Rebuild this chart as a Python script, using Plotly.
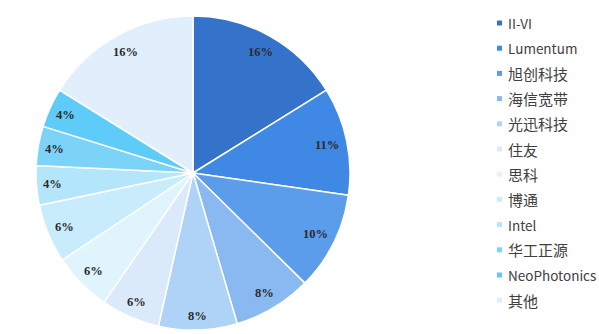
import math
import plotly.graph_objects as go

labels = ["II-VI", "Lumentum", "旭创科技", "海信宽带", "光迅科技", "住友", "思科", "博通",
          "Intel", "华工正源", "NeoPhotonics", "其他"]
values = [16, 11, 10, 8, 8, 6, 6, 6, 4, 4, 4, 16]
colors = ["#3473C9", "#3F88E3", "#5B9DEB", "#89B9F0", "#AFD3F6", "#DBEAFB",
          "#E0F4FE", "#C9ECFC", "#B3E6FA", "#7BD3F8", "#5ECBF8", "#E1EFFD"]

W, H = 599, 334
cx, cy, r = 193, 173, 157

fig = go.Figure(go.Pie(
    labels=labels, values=values, sort=False, direction="clockwise", rotation=0,
    marker=dict(colors=colors, line=dict(color="white", width=1.5)),
    textinfo="none",
    domain=dict(x=[(cx - r) / W, (cx + r) / W], y=[(H - cy - r) / H, (H - cy + r) / H]),
    showlegend=False, hoverinfo="label+value",
))

shapes, annotations = [], []

# slice labels near the outer edge (mid-angle of each slice)
total = sum(values)
cum = 0
for v in values:
    mid = (cum + v / 2) / total * 2 * math.pi
    cum += v
    s, c = math.sin(mid), math.cos(mid)
    w = 22 if v >= 10 else 15
    d = r - (abs(s) * w / 2 + abs(c) * 6) - 8
    annotations.append(dict(text=f"<b>{v}%</b>", xref="paper", yref="paper",
                            x=(cx + d * s) / W, y=1 - (cy - d * c) / H,
                            xanchor="center", yanchor="middle", showarrow=False,
                            font=dict(family="Liberation Serif", size=12.5, color="#2b2b2b")))

# manual legend
y0, step = 23, 25.2
for i, (lab, col) in enumerate(zip(labels, colors)):
    y = y0 + i * step
    shapes.append(dict(type="rect", xref="paper", yref="paper",
                       x0=497 / W, x1=502 / W, y0=1 - (y + 2.5) / H, y1=1 - (y - 2.5) / H,
                       fillcolor=col, line=dict(width=0)))
    size = 13.5 if lab.isascii() else 15
    annotations.append(dict(text=lab, xref="paper", yref="paper", x=506 / W, y=1 - y / H,
                            xanchor="left", yanchor="middle", showarrow=False,
                            font=dict(family="Noto Sans CJK SC", size=size, color="#404040")))

fig.update_layout(width=W, height=H, margin=dict(l=0, r=0, t=0, b=0),
                  paper_bgcolor="white", plot_bgcolor="white",
                  shapes=shapes, annotations=annotations)
fig.write_html("out.html")
